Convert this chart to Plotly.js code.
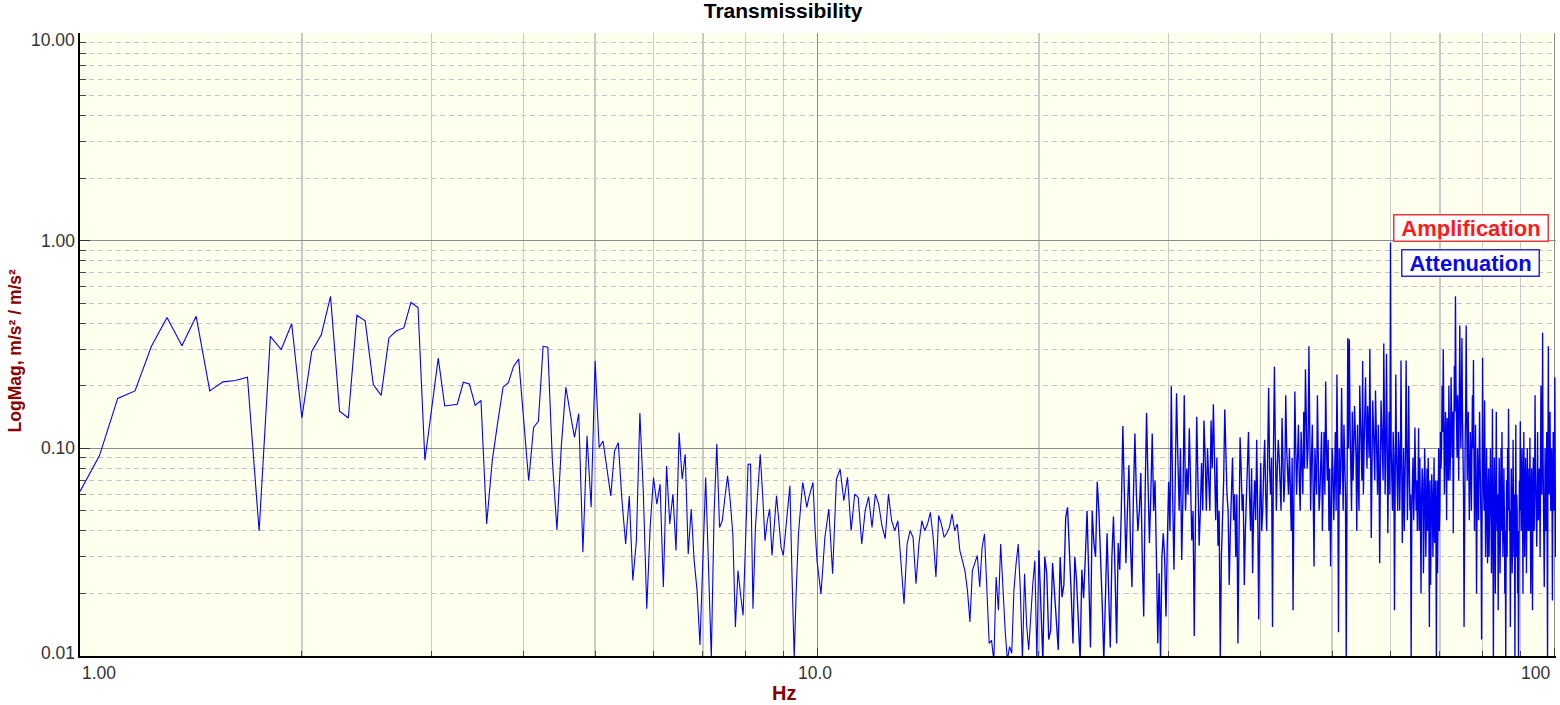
<!DOCTYPE html>
<html>
<head>
<meta charset="utf-8">
<script src="https://cdn.plot.ly/plotly-3.0.1.min.js"></script>
<style>
html,body{margin:0;padding:0;background:#ffffff;}
#chart{width:1560px;height:705px;}
</style>
</head>
<body>
<div id="chart"></div>
<script>
// ---- Data: transmissibility magnitude (m/s² / m/s²) on uniform frequency grids ----
const lowStartHz = 1.0, lowStepHz = 0.0625;   // 1.0 .. 10.0 Hz
const lowMag = [
  0.062,0.092,0.174,0.189,0.31,0.427,0.312,0.432,0.189,0.209,0.212,0.22,0.04,0.346,0.299,0.398,
  0.14,0.293,0.352,0.539,0.151,0.14,0.437,0.411,0.203,0.18,0.34,0.368,0.38,0.504,0.477,0.0876,
  0.155,0.272,0.16,0.161,0.163,0.208,0.204,0.161,0.17,0.0432,0.087,0.133,0.197,0.207,0.248,0.269,
  0.13,0.0698,0.126,0.135,0.31,0.307,0.087,0.0404,0.1045,0.197,0.148,0.113,0.147,0.0316,0.115,0.052,
  0.263,0.101,0.1085,0.081,0.059,0.097,0.1065,0.056,0.0346,0.059,0.0231,0.0359,0.148,0.061,0.0169,0.0416,
  0.0724,0.0539,0.0672,0.0215,0.0823,0.0432,0.0602,0.0322,0.119,0.071,0.0936,0.031,0.051,0.0288,0.0207,0.0113,
  0.0288,0.0724,0.0268,0.0098,0.0483,0.1053,0.0416,0.0448,0.058,0.0737,0.0559,0.0387,0.0138,0.0258,0.0199,0.0157,
  0.0359,0.0838,0.084,0.0169,0.0416,0.0648,0.0936,0.0602,0.0359,0.0448,0.051,0.0305,0.0416,0.0591,0.0448,0.0334,
  0.0305,0.0387,0.0519,0.066,0.024,0.0098,0.0215,0.0387,0.0519,0.0685,0.0602,0.0519,0.058,0.0625,0.0685,0.0416,
  0.0288
];
const midStartHz = 10.125, midStepHz = 0.125;  // 10.125 .. 20.0 Hz
const midMag = [
  0.0199,0.0373,0.051,0.0249,0.071,0.0793,0.0559,0.0725,
  0.0401,0.0602,0.058,0.0346,0.0501,0.0585,0.0416,0.0602,
  0.0539,0.0424,0.0367,0.0602,0.0448,0.0401,0.0448,0.0278,
  0.0178,0.0346,0.0401,0.0373,0.0223,0.0346,0.0448,0.0401,
  0.0432,0.0492,0.0373,0.024,0.0475,0.0432,0.0373,0.039,
  0.0416,0.0483,0.0401,0.0432,0.0322,0.0288,0.0258,0.0207,
  0.0146,0.0258,0.0283,0.0305,0.0215,0.0334,0.0387,0.0192,
  0.0115,0.0119,0.0095,0.024,0.0166,0.0346,0.02,0.0133,
  0.0095,0.0111,0.0103,0.0207,0.0278,0.0346,0.0207,0.0095,
  0.0249,0.0141,0.0107,0.0166,0.0223,0.0288,0.0095,0.0322
];
const highStepHz = 0.125;
const mag20to30 = [ // 20.125 .. 30.0 Hz
  .018,.0095,.03,.0249,.012,.0133,.028,.0207,
  .014,.0107,.03,.0192,.022,.0465,.052,.0346,
  .02,.0115,.03,.023,.013,.0095,.026,.019,
  .03,.0501,.024,.011,.05,.035,.03,.069,
  .05,.032,.018,.0095,.022,.039,.02,.011,
  .03,.047,.025,.0115,.035,.026,.05,.128,
  .06,.028,.05,.083,.035,.0215,.06,.118,
  .06,.04,.05,.076,.03,.0155,.06,.148,
  .07,.035,.06,.118,.05,.07,.03,.0115,
  .025,.0095,.03,.039,.03,.0155,.035,.069
];
const mag30to40 = [ // 30.125 .. 40.0 Hz
  .04,.199,.06,.026,.07,.184,.09,.05,
  .1,.029,.06,.18,.05,.08,.06,.125,
  .07,.036,.05,.0125,.05,.142,.07,.034,
  .05,.085,.05,.136,.09,.05,.1,.07,
  .05,.136,.08,.163,.07,.045,.09,.034,
  .05,.0095,.03,.042,.07,.154,.09,.06,
  .05,.022,.04,.065,.09,.045,.06,.03,
  .06,.0115,.05,.113,.08,.05,.06,.022,
  .04,.06,.07,.12,.06,.04,.08,.025,
  .05,.07,.045,.11,.05,.015,.05,.085
];
const mag40to50 = [ // 40.125 .. 50.0 Hz
  .04,.05,.08,.11,.06,.04,.09,.196,
  .08,.06,.09,.0138,.1,.247,.1,.05,
  .08,.11,.09,.06,.05,.14,.09,.055,
  .07,.18,.1,.07,.06,.1,.07,.04,
  .09,.0166,.06,.188,.1,.06,.09,.13,
  .07,.05,.12,.09,.06,.15,.08,.24,
  .12,.08,.1,.31,.12,.05,.09,.13,
  .06,.027,.1,.07,.06,.18,.11,.05,
  .06,.09,.12,.04,.07,.12,.06,.21,
  .1,.07,.11,.04,.08,.027,.05,.1
];
const mag50to60 = [ // 50.125 .. 60.0 Hz
  .08,.045,.07,.12,.05,.227,.09,.013,
  .1,.06,.08,.195,.09,.05,.13,.09,
  .06,.0095,.12,.34,.1,.335,.13,.07,
  .05,.15,.07,.1,.16,.12,.09,.04,
  .13,.07,.05,.2,.12,.09,.07,.263,
  .06,.1,.14,.22,.12,.08,.16,.12,
  .09,.30,.1,.037,.08,.17,.13,.09,
  .07,.19,.14,.1,.06,.13,.09,.028,
  .11,.17,.13,.09,.07,.32,.12,.06,
  .1,.285,.12,.039,.08,.15,.06,.98
];
const mag60to70 = [ // 60.125 .. 70.0 Hz
  .1,.06,.05,.12,.09,.0166,.06,.227,
  .1,.07,.05,.12,.1,.05,.08,.265,
  .1,.035,.06,.1,.04,.06,.1,.265,
  .08,.045,.07,.2,.09,.05,.06,.0095,
  .05,.07,.09,.045,.06,.126,.08,.05,
  .07,.04,.06,.125,.04,.09,.05,.02,
  .06,.08,.07,.025,.04,.1,.07,.03,
  .05,.08,.04,.09,.05,.0138,.07,.022,
  .04,.075,.06,.03,.05,.09,.035,.07,
  .05,.0095,.07,.025,.05,.1,.04,.05
];
const mag70to80 = [ // 70.125 .. 80.0 Hz
  .12,.08,.1,.2,.12,.30,.14,.06,
  .09,.15,.1,.045,.14,.1,.07,.2,
  .12,.07,.1,.22,.14,.09,.15,.039,
  .1,.25,.15,.54,.2,.12,.09,.18,
  .14,.07,.15,.39,.17,.1,.16,.34,
  .15,.1,.06,.0138,.07,.1,.15,.39,
  .16,.07,.1,.15,.08,.045,.07,.12,
  .09,.05,.1,.18,.1,.266,.09,.04,
  .07,.13,.06,.02,.05,.1,.07,.045,
  .08,.15,.09,.06,.04,.012,.05,.273
];
const mag80to90 = [ // 80.125 .. 90.0 Hz
  .08,.06,.05,.17,.06,.03,.05,.1,
  .05,.028,.06,.08,.03,.045,.06,.1,
  .05,.025,.05,.155,.04,.0095,.05,.09,
  .04,.02,.06,.15,.05,.04,.06,.0166,
  .04,.09,.06,.025,.05,.1,.04,.12,
  .05,.03,.045,.08,.05,.02,.04,.0095,
  .04,.07,.03,.1,.05,.155,.06,.04,
  .05,.0138,.04,.08,.05,.025,.04,.11,
  .05,.03,.06,.0095,.04,.13,.03,.06,
  .05,.02,.04,.0095,.03,.07,.05,.135
];
const mag90to100 = [ // 90.125 .. 100.5 Hz
  .06,.04,.05,.1,.06,.02,.05,.12,
  .06,.03,.05,.09,.06,.025,.05,.1,
  .06,.04,.05,.08,.04,.1125,.06,.02,
  .05,.08,.04,.0166,.06,.09,.05,.04,
  .07,.18,.08,.05,.07,.0336,.06,.12,
  .05,.045,.06,.08,.07,.03,.09,.2,
  .08,.06,.1,.36,.1,.05,.06,.0215,
  .04,.1,.06,.04,.05,.12,.05,.0095,
  .1,.31,.08,.06,.07,.15,.06,.05,
  .07,.1,.06,.0185,.05,.12,.06,.05,
  .07,.22,.08,.03
];
const highBands = [
  [20.125, mag20to30], [30.125, mag30to40], [40.125, mag40to50], [50.125, mag50to60],
  [60.125, mag60to70], [70.125, mag70to80], [80.125, mag80to90], [90.125, mag90to100]
];

// Axis ticks and labels
const xTickVals = [1, 10, 100];
const xTickText = ['1.00', '10.0', '100'];
const yTickVals = [0.01, 0.1, 1, 10];
const yTickText = ['0.01', '0.10', '1.00', '10.00'];
const xMinorVals = [];
[1, 10].forEach(d => { for (let k = 2; k <= 9; k++) xMinorVals.push(k * d); });
const yMinorVals = [];
[0.01, 0.1, 1].forEach(d => { for (let k = 2; k <= 9; k++) yMinorVals.push(+(k * d).toFixed(4)); });

// Build the series: below 20 Hz and from 20 Hz up (dense part drawn as its own trace)
const lowFreq = [], lowVal = [], highFreq = [], highVal = [];
function addSegment(fArr, vArr, start, step, values) {
  values.forEach((v, i) => { fArr.push(+(start + i * step).toFixed(4)); vArr.push(v); });
}
addSegment(lowFreq, lowVal, lowStartHz, lowStepHz, lowMag);
addSegment(lowFreq, lowVal, midStartHz, midStepHz, midMag);
// join: the dense trace starts from the last sparse point (20 Hz)
highFreq.push(lowFreq[lowFreq.length - 1]); highVal.push(lowVal[lowVal.length - 1]);
highBands.forEach(b => addSegment(highFreq, highVal, b[0], highStepHz, b[1]));

const FONT = 'Liberation Sans, Arial, Helvetica, sans-serif';
const tickFont = {family: FONT, size: 17.5, color: '#333333'};
const titleRed = '#8B0000';

const annotations = [];
// x tick labels
const xAnch = ['left', 'center', 'right'];
const xShift = [0, -2, -2];
xTickVals.forEach((v, i) => annotations.push({
  text: xTickText[i], xref: 'x', x: Math.log10(v), yref: 'paper', y: -0.0275,
  xanchor: xAnch[i], yanchor: 'middle', xshift: xShift[i], showarrow: false, font: tickFont
}));
// y tick labels
const yShift = [3, 0, 0, -7];
yTickVals.forEach((v, i) => annotations.push({
  text: yTickText[i], xref: 'paper', x: 0, xanchor: 'right', xshift: -3,
  yref: 'y', y: Math.log10(v), yanchor: 'middle', yshift: yShift[i], showarrow: false, font: tickFont
}));
// axis titles
annotations.push({
  text: '<b>Hz</b>', xref: 'paper', x: 0.4768, yref: 'paper', y: -0.0594,
  xanchor: 'center', yanchor: 'middle', showarrow: false,
  font: {family: FONT, size: 20, color: titleRed}
});
annotations.push({
  text: '<b>LogMag, m/s² / m/s²</b>', xref: 'paper', x: -0.0434, yref: 'paper', y: 0.4904,
  xanchor: 'center', yanchor: 'middle', textangle: -90, showarrow: false,
  font: {family: FONT, size: 17.5, color: titleRed}
});
// legend-style boxes
annotations.push({
  text: '<b>Amplification</b>', xref: 'paper', x: 0.9421, yref: 'paper', y: 0.6862,
  xanchor: 'center', yanchor: 'middle', showarrow: false, width: 151, height: 23,
  bgcolor: '#ffffff', bordercolor: '#e8383c', borderwidth: 1.5, borderpad: 1,
  font: {family: FONT, size: 22, color: '#ff1a1a'}
});
annotations.push({
  text: '<b>Attenuation</b>', xref: 'paper', x: 0.9421, yref: 'paper', y: 0.6313,
  xanchor: 'center', yanchor: 'middle', showarrow: false, width: 134, height: 23,
  bgcolor: '#ffffff', bordercolor: '#2a2ad8', borderwidth: 1.5, borderpad: 1,
  font: {family: FONT, size: 22, color: '#0a0ae6'}
});

const traceLow = {
  type: 'scatter', mode: 'lines', x: lowFreq, y: lowVal,
  line: {color: '#0000ff', width: 1.1}, hoverinfo: 'skip', showlegend: false
};
const traceHigh = {
  type: 'scatter', mode: 'lines', x: highFreq, y: highVal,
  line: {color: '#0000f0', width: 1.35}, hoverinfo: 'skip', showlegend: false
};

const layout = {
  width: 1560, height: 705,
  margin: {l: 80, r: 4, t: 33, b: 49, pad: 0},
  paper_bgcolor: '#ffffff', plot_bgcolor: '#ffffee',
  showlegend: false,
  title: {
    text: '<b>Transmissibility</b>', xref: 'container', x: 0.502, xanchor: 'center',
    yref: 'container', y: 0.985, yanchor: 'middle',
    font: {family: FONT, size: 21, color: '#000000'}
  },
  xaxis: {
    type: 'log', range: [0, 2.0027], showline: true, linecolor: '#000000', linewidth: 2,
    ticks: 'inside', ticklen: 8, tickwidth: 1, tickcolor: '#333333',
    tickmode: 'array', tickvals: xTickVals, showticklabels: false,
    showgrid: true, gridcolor: '#8c8c8c', gridwidth: 1, zeroline: false,
    minor: {tickmode: 'array', tickvals: xMinorVals, ticks: 'inside', ticklen: 5, tickwidth: 1,
            tickcolor: '#444444', showgrid: true, gridcolor: '#cacaca', gridwidth: 1.5},
    fixedrange: true
  },
  yaxis: {
    type: 'log', range: [-2, 1], showline: true, linecolor: '#000000', linewidth: 2,
    ticks: 'inside', ticklen: 10, tickwidth: 1, tickcolor: '#333333',
    tickmode: 'array', tickvals: yTickVals, showticklabels: false,
    showgrid: true, gridcolor: '#8c8c8c', gridwidth: 1, zeroline: false,
    minor: {tickmode: 'array', tickvals: yMinorVals, ticks: 'inside', ticklen: 6, tickwidth: 1,
            tickcolor: '#444444', showgrid: true, gridcolor: '#c4c4c4', gridwidth: 1, griddash: '5px,4px'},
    fixedrange: true
  },
  annotations: annotations
};

Plotly.newPlot('chart', [traceLow, traceHigh], layout, {staticPlot: true, displayModeBar: false});
</script>
</body>
</html>
